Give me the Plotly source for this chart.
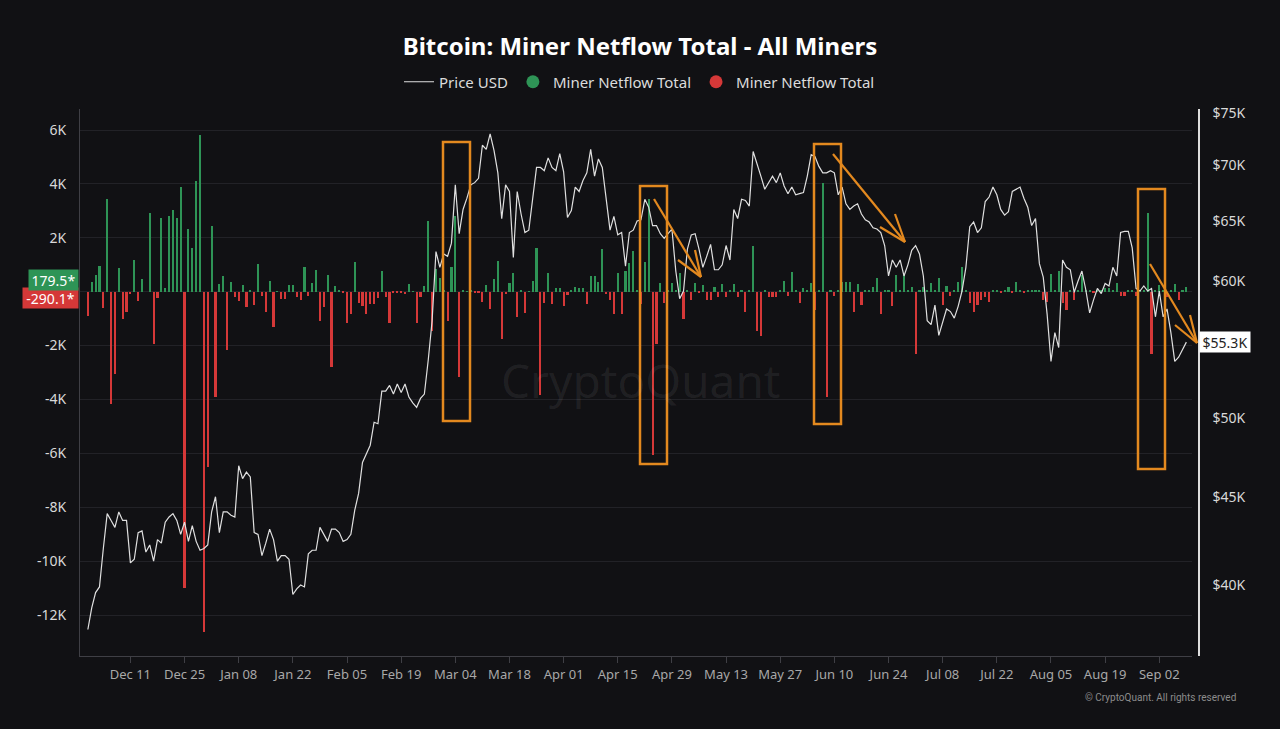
import math
import pandas as pd
import plotly.graph_objects as go

# ---------------- data ----------------
start_date = "2023-11-30"

# BTC price, thousands USD, daily from 2023-11-30
price_k = [
    37.7, 38.8, 39.6, 39.9, 42.0, 44.0, 43.6, 43.2, 44.1, 43.6, 43.6,
    41.2, 41.4, 42.9, 43.0, 41.8, 42.2, 41.3, 42.5, 42.3, 43.5,
    43.8, 44.0, 43.6, 42.8, 43.5, 42.4, 43.3, 42.4, 41.9, 42.0,
    42.2, 44.1, 45.0, 42.9, 44.1, 44.1, 43.9, 43.8, 46.9, 46.1,
    46.5, 46.2, 42.9, 42.8, 41.6, 42.3, 43.1, 42.5, 41.3, 41.6,
    41.6, 41.4, 39.5, 39.8, 40.0, 39.9, 41.7, 41.9, 41.9, 43.2,
    42.8, 42.4, 43.1, 43.1, 42.9, 42.4, 42.5, 42.8, 44.2, 45.2,
    47.1, 47.7, 48.2, 49.7, 49.6, 51.8, 51.8, 52.2, 51.6, 52.3,
    51.7, 52.3, 51.4, 51.0, 50.7, 51.3, 51.6, 54.0, 56.9, 62.4,
    61.1, 62.2, 62.0, 63.1, 68.2, 63.9, 66.0, 67.0, 68.2, 68.4,
    68.8, 71.9, 71.5, 73.0, 71.4, 69.3, 65.2, 68.2, 67.6, 61.9,
    67.6, 65.6, 64.0, 64.2, 66.8, 69.8, 69.8, 69.5, 70.7, 69.8,
    69.5, 71.1, 69.4, 65.3, 65.9, 68.0, 67.6, 68.6, 69.3, 71.5,
    69.0, 70.6, 69.8, 66.8, 64.2, 65.4, 63.8, 64.0, 61.2, 64.0,
    64.2, 65.0, 65.1, 66.9, 66.2, 64.6, 64.6, 63.9, 63.5, 63.9,
    64.3, 60.8, 58.6, 59.2, 62.6, 63.8, 63.9, 62.6, 61.1, 62.0,
    63.0, 60.9, 60.9, 61.3, 62.9, 61.7, 66.0, 65.2, 66.9, 66.8,
    66.3, 71.3, 70.2, 69.0, 67.8, 68.4, 69.0, 68.4, 69.3, 68.1,
    67.4, 68.0, 67.3, 67.4, 67.5, 69.0, 71.0, 70.8, 69.9, 69.3,
    69.3, 69.5, 69.3, 67.3, 68.0, 66.5, 66.0, 66.3, 66.5, 65.6,
    65.1, 64.9, 64.4, 64.3, 64.0, 62.9, 60.4, 61.7, 61.1, 61.7,
    60.4, 61.3, 62.5, 62.9, 62.2, 60.4, 56.9, 56.6, 58.1, 55.8,
    56.8, 57.8, 57.6, 57.1, 58.0, 59.2, 61.1, 64.5, 64.9, 64.0,
    64.4, 66.7, 67.1, 68.0, 67.3, 66.0, 65.5, 65.8, 67.6, 67.8,
    68.0, 67.0, 66.2, 64.6, 65.2, 61.4, 60.3, 57.4, 53.9, 56.0,
    54.9, 61.7, 61.1, 60.9, 59.1, 60.0, 60.8, 59.3, 57.5, 58.5,
    59.4, 59.0, 59.8, 59.6, 61.1, 60.4, 64.0, 64.1, 64.1, 62.7,
    59.4, 59.2, 59.6, 59.2, 59.4, 57.2, 59.2, 57.2, 57.8, 56.0,
    53.9, 54.2, 54.7, 55.3,
]

# Miner netflow total, thousands BTC, daily from 2023-11-30
netflow_k = [
    -0.91, 0.35, 0.62, 0.97, -0.60, 3.45, -4.17, -3.04, 0.87, -1.02, -0.77,
    -0.09, 1.19, -0.34, 0.48, 0.0, 2.92, -1.93, -0.25, 2.72, 0.12,
    2.81, 3.04, 2.72, 3.89, -11.0, 2.31, 1.64, 4.09, 5.83, -12.63,
    -6.52, 2.42, -3.91, 0.30, 0.58, -2.17, 0.37, -0.19, -0.35, 0.24,
    -0.56, 0.03, -0.51, 1.02, -0.15, -0.77, 0.40, -1.32, 0.02, -0.27,
    -0.27, 0.24, 0.24, -0.19, -0.31, 0.91, -0.15, 0.32, 0.82, -1.07,
    -0.57, 0.62, -2.81, 0.21, 0.03, -0.04, -1.18, -0.84, 1.10, -0.43,
    -0.53, -0.84, -0.47, -0.47, -0.25, 0.75, -0.19, -1.18, -0.05, -0.06,
    -0.05, -0.08, 0.29, 0.02, -1.16, -0.19, 0.21, 2.61, -1.45, 0.86,
    0.50, 0.03, -1.09, 0.90, 2.80, -3.17, 0.04, 0.02, 0.06, -0.05,
    -0.06, -0.37, 0.24, -0.66, 0.47, 1.13, -1.76, -0.09, 0.31, 0.71,
    -0.93, 0.03, -0.78, 0.02, 0.41, 1.61, -3.85, -0.43, 0.71, -0.47,
    0.15, 0.15, -0.52, -0.12, 0.06, 0.19, 0.15, 0.15, -0.47, 0.58,
    0.58, 0.35, 1.58, -0.09, -0.29, -0.84, 0.68, -0.84, 0.75, 1.06,
    1.52, 0.03, -0.47, 1.12, 3.44, -6.06, -1.93, 0.34, -0.43, 0.04,
    0.31, 0.03, 0.68, -1.03, 0.05, -0.30, 0.33, -0.05, 0.25, -0.31,
    -0.29, 0.19, -0.19, 0.29, -0.19, 0.04, 0.29, -0.19, 0.03, -0.75,
    0.05, 1.68, -1.47, -1.65, 0.06, -0.19, -0.19, -0.19, 0.03, 0.40,
    -0.16, 0.72, 0.03, -0.43, 0.12, 0.03, 0.31, -0.68, 0.04, 4.04,
    -3.91, 0.03, -0.16, 0.04, 0.37, 0.37, 0.37, -0.75, 0.29, -0.50,
    0.03, 0.06, 0.19, 0.50, -0.84, 0.03, 0.04, -0.53, 0.62, 0.03,
    0.62, 0.04, 0.19, -2.30, 0.03, 0.19, 0.04, 0.31, 0.03, 0.50,
    -0.50, 0.21, -0.16, 0.03, 0.37, 0.90, 0.03, -0.43, -0.75, -0.50,
    -0.31, -0.19, -0.37, 0.06, 0.03, -0.05, 0.04, 0.19, -0.05, 0.35,
    0.03, -0.04, 0.04, 0.05, 0.03, 0.04, -0.31, -0.37, 0.66, 0.04,
    0.75, -0.43, -0.68, 0.04, -0.31, 0.03, 0.62, 0.04, 0.03, -0.05,
    0.04, 0.03, 0.12, 0.12, 0.03, 0.31, -0.16, -0.16, 0.04, 0.03,
    -0.16, 0.04, 0.03, 2.92, -2.30, 0.04, 0.25, 0.03, -0.19, 0.04,
    0.27, -0.2901, 0.05, 0.1795,
]

left_tick_vals_k = [-12, -10, -8, -6, -4, -2, 0, 2, 4, 6]
left_tick_text = ["-12K", "-10K", "-8K", "-6K", "-4K", "-2K", "", "2K", "4K", "6K"]
right_tick_vals_k = [40, 45, 50, 55, 60, 65, 70, 75]
right_tick_text = ["$40K", "$45K", "$50K", "", "$60K", "$65K", "$70K", "$75K"]

title_text = "Bitcoin: Miner Netflow Total - All Miners"
legend_names = ["Price USD", "Miner Netflow Total", "Miner Netflow Total"]

assert len(price_k) == len(netflow_k)

dates = pd.date_range(start_date, periods=len(price_k), freq="D")
price = [p * 1000 for p in price_k]
netflow = [v * 1000 for v in netflow_k]
pos = [v if v > 0 else None for v in netflow]
neg = [v if v < 0 else None for v in netflow]
last_neg = [v for v in netflow if v < 0][-1]
last_pos = [v for v in netflow if v > 0][-1]

# ---------------- style ----------------
BG = "#111114"
GREEN = "#2e9456"
RED = "#d53838"
ORANGE = "#e3891f"
FONT = "Noto Sans"

W_PX, H_PX = 1280, 729
L, R, T, B = 80, 1199, 109, 656


def px(x):
    return (x - L) / (R - L)


def py(y):
    return (B - y) / (B - T)


fig = go.Figure()

bar_w = 0.55 * 86400000
fig.add_trace(go.Bar(x=dates, y=pos, marker=dict(color=GREEN, line=dict(width=0)),
                     width=bar_w, name=legend_names[1], showlegend=False, yaxis="y"))
fig.add_trace(go.Bar(x=dates, y=neg, marker=dict(color=RED, line=dict(width=0)),
                     width=bar_w, name=legend_names[2], showlegend=False, yaxis="y"))
fig.add_trace(go.Scatter(x=dates, y=price, mode="lines", line=dict(color="#e0e0e0", width=1.2),
                         name=legend_names[0], yaxis="y2", legendrank=1))
# legend entries with round markers
fig.add_trace(go.Scatter(x=[None], y=[None], mode="markers", yaxis="y",
                         marker=dict(color=GREEN, size=13, symbol="circle"),
                         name=legend_names[1], legendrank=2))
fig.add_trace(go.Scatter(x=[None], y=[None], mode="markers", yaxis="y",
                         marker=dict(color=RED, size=13, symbol="circle"),
                         name=legend_names[2], legendrank=3))

x_start = pd.Timestamp("2023-11-27 23:15")
x_end = pd.Timestamp("2024-09-10 11:00")

shapes = []
rects = [(443, 142, 470, 421), (640, 186, 667, 464), (814, 144, 841, 424), (1138, 189, 1165, 469)]
for x0, y0, x1, y1 in rects:
    shapes.append(dict(type="rect", xref="paper", yref="paper",
                       x0=px(x0), x1=px(x1), y0=py(y1), y1=py(y0),
                       line=dict(color=ORANGE, width=2.5)))
arrows = [
    [(654, 199, 701, 277), (678, 260, 701, 277), (695, 250, 701, 277)],
    [(833, 154, 905, 242), (880, 227, 905, 242), (895, 214, 905, 242)],
    [(1150, 264, 1197, 343), (1175, 325, 1197, 343), (1190, 315, 1197, 343)],
]
for arrow in arrows:
    for x0, y0, x1, y1 in arrow:
        shapes.append(dict(type="line", xref="paper", yref="paper",
                           x0=px(x0), x1=px(x1), y0=py(y0), y1=py(y1),
                           line=dict(color=ORANGE, width=2.2)))

annotations = [
    # watermark
    dict(text="CryptoQuant", xref="paper", yref="paper", x=px(640), y=py(380),
         showarrow=False, font=dict(family=FONT, size=46, color="rgba(255,255,255,0.07)"),
         xanchor="center", yanchor="middle"),
    # copyright
    dict(text="© CryptoQuant. All rights reserved", xref="paper", yref="paper",
         x=px(1238), y=py(697), showarrow=False, xanchor="right", yanchor="middle",
         font=dict(family="Roboto", size=10, color="#8c8c8c")),
    # last value labels (left)
    dict(text="%.1f*" % last_neg, xref="paper", yref="paper",
         x=px(79), y=py(298), showarrow=False, xanchor="right", yanchor="middle",
         bgcolor=RED, font=dict(family=FONT, size=14, color="white"), width=53, height=18,
         borderpad=1),
    dict(text="%.1f*" % last_pos, xref="paper", yref="paper",
         x=px(79), y=py(280), showarrow=False, xanchor="right", yanchor="middle",
         bgcolor=GREEN, font=dict(family=FONT, size=14, color="white"), width=47, height=18,
         borderpad=1),
    # last price label (right)
    dict(text="$%.1fK" % price_k[-1], xref="paper", yref="y2",
         x=1.0, y=math.log10(price[-1]), showarrow=False, xanchor="left", yanchor="middle",
         bgcolor="#ffffff", font=dict(family=FONT, size=14, color="#222222"), width=48, height=18,
         borderpad=1),
]

fig.update_layout(
    width=W_PX, height=H_PX, autosize=False,
    margin=dict(l=L, r=W_PX - R, t=T, b=H_PX - B, pad=0),
    paper_bgcolor=BG, plot_bgcolor=BG,
    font=dict(family=FONT, color="#d9d9d9"),
    title=dict(text="<b>%s</b>" % title_text, x=0.5, xanchor="center", xref="container",
               y=1 - 47 / H_PX, yanchor="middle", font=dict(family=FONT, size=24, color="#ffffff")),
    legend=dict(orientation="h", x=0.5, xanchor="center", y=py(82), yanchor="middle",
                font=dict(family=FONT, size=15, color="#dcdcdc"), bgcolor="rgba(0,0,0,0)",
                itemwidth=30, traceorder="normal"),
    bargap=0, barmode="overlay",
    xaxis=dict(type="date", domain=[0, px(1192)], range=[x_start, x_end],
               showgrid=False, zeroline=False, showline=True, linecolor="#3f3f45", linewidth=1,
               ticks="outside", ticklen=6, tickcolor="#3f3f45",
               tick0="2023-12-11", dtick=14 * 86400000, tickformat="%b %d",
               tickfont=dict(family=FONT, size=13, color="#a8a8a8")),
    yaxis=dict(range=[-13520, 6780], tickvals=[v * 1000 for v in left_tick_vals_k],
               ticktext=left_tick_text, showgrid=True, gridcolor="#222227", gridwidth=1,
               zeroline=False, showline=True, linecolor="#3f3f45", linewidth=1,
               ticks="outside", ticklen=10, tickcolor=BG,
               tickfont=dict(family=FONT, size=14, color="#d9d9d9")),
    yaxis2=dict(type="log", overlaying="y", side="right", anchor="free", position=1.0,
                range=[4.5610, 4.8777], tickvals=[v * 1000 for v in right_tick_vals_k],
                ticktext=right_tick_text, showgrid=False, zeroline=False,
                showline=True, linecolor="#dedede", linewidth=1.5,
                ticks="outside", ticklen=10, tickcolor=BG,
                tickfont=dict(family=FONT, size=14, color="#d9d9d9")),
    shapes=shapes,
    annotations=annotations,
)

fig.write_html(
    "out.html",
    config={"displayModeBar": False},
    post_script="document.body.style.margin='0';document.body.style.background='%s';" % BG,
)
